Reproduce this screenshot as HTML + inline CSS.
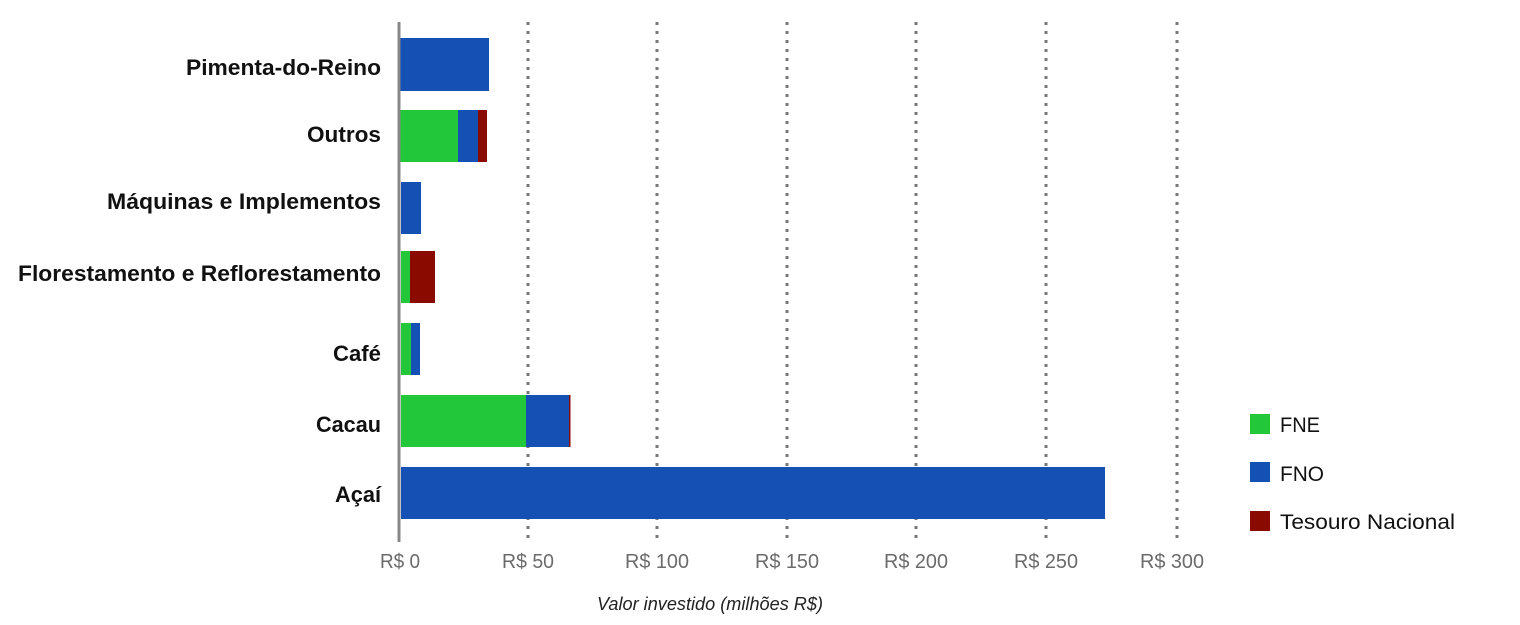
<!DOCTYPE html>
<html><head><meta charset="utf-8"><style>
html,body{margin:0;padding:0;background:#fff;}
svg{display:block;}
.lab{font-family:"Liberation Sans",sans-serif;font-weight:bold;font-size:22px;fill:#111;}
.tick{font-family:"Liberation Sans",sans-serif;font-size:20px;fill:#6b6b6b;}
.leg{font-family:"Liberation Sans",sans-serif;font-size:21px;fill:#111;}
</style></head><body>
<svg width="1520" height="625" viewBox="0 0 1520 625">
<g stroke="#777" stroke-width="3" stroke-dasharray="3,6">
<line x1="528" y1="22" x2="528" y2="540"/>
<line x1="657" y1="22" x2="657" y2="540"/>
<line x1="787" y1="22" x2="787" y2="540"/>
<line x1="916" y1="22" x2="916" y2="540"/>
<line x1="1046" y1="22" x2="1046" y2="540"/>
<line x1="1177" y1="22" x2="1177" y2="540"/>
</g>
<!-- bars -->
<rect x="399" y="38" width="90" height="53" fill="#1550b5"/>
<rect x="399" y="110" width="59" height="52" fill="#22c83a"/>
<rect x="458" y="110" width="20" height="52" fill="#1550b5"/>
<rect x="478" y="110" width="9" height="52" fill="#8b0a00"/>
<rect x="401" y="182" width="20" height="52" fill="#1550b5"/>
<rect x="401" y="251" width="9" height="52" fill="#22c83a"/>
<rect x="410" y="251" width="25" height="52" fill="#8b0a00"/>
<rect x="401" y="323" width="10" height="52" fill="#22c83a"/>
<rect x="411" y="323" width="9" height="52" fill="#1550b5"/>
<rect x="401" y="395" width="125" height="52" fill="#22c83a"/>
<rect x="526" y="395" width="43" height="52" fill="#1550b5"/>
<rect x="569" y="395" width="1.5" height="52" fill="#8b0a00"/>
<rect x="401" y="467" width="704" height="52" fill="#1550b5"/>
<line x1="399" y1="22" x2="399" y2="542" stroke="#888" stroke-width="3"/>
<!-- labels -->
<g class="lab" text-anchor="end">
<text x="381" y="75" textLength="195" lengthAdjust="spacingAndGlyphs">Pimenta-do-Reino</text>
<text x="381" y="142" textLength="74" lengthAdjust="spacingAndGlyphs">Outros</text>
<text x="381" y="209" textLength="274" lengthAdjust="spacingAndGlyphs">Máquinas e Implementos</text>
<text x="381" y="281" textLength="363" lengthAdjust="spacingAndGlyphs">Florestamento e Reflorestamento</text>
<text x="381" y="361" textLength="48" lengthAdjust="spacingAndGlyphs">Café</text>
<text x="381" y="432" textLength="65" lengthAdjust="spacingAndGlyphs">Cacau</text>
<text x="381" y="502" textLength="46" lengthAdjust="spacingAndGlyphs">Açaí</text>
</g>
<g class="tick" text-anchor="middle">
<text x="400" y="568" textLength="40" lengthAdjust="spacingAndGlyphs">R$ 0</text>
<text x="528" y="568" textLength="52" lengthAdjust="spacingAndGlyphs">R$ 50</text>
<text x="657" y="568" textLength="64" lengthAdjust="spacingAndGlyphs">R$ 100</text>
<text x="787" y="568" textLength="64" lengthAdjust="spacingAndGlyphs">R$ 150</text>
<text x="916" y="568" textLength="64" lengthAdjust="spacingAndGlyphs">R$ 200</text>
<text x="1046" y="568" textLength="64" lengthAdjust="spacingAndGlyphs">R$ 250</text>
<text x="1172" y="568" textLength="64" lengthAdjust="spacingAndGlyphs">R$ 300</text>
</g>
<text x="710" y="610" text-anchor="middle" font-family="Liberation Sans, sans-serif" font-style="italic" font-size="18" fill="#222" textLength="226" lengthAdjust="spacingAndGlyphs">Valor investido (milhões R$)</text>
<!-- legend -->
<rect x="1250" y="414" width="20" height="20" fill="#22c83a"/>
<rect x="1250" y="462" width="20" height="20" fill="#1550b5"/>
<rect x="1250" y="511" width="20" height="20" fill="#8b0a00"/>
<g class="leg">
<text x="1280" y="432" textLength="40" lengthAdjust="spacingAndGlyphs">FNE</text>
<text x="1280" y="481" textLength="44" lengthAdjust="spacingAndGlyphs">FNO</text>
<text x="1280" y="529" textLength="175" lengthAdjust="spacingAndGlyphs">Tesouro Nacional</text>
</g>
</svg>
</body></html>
